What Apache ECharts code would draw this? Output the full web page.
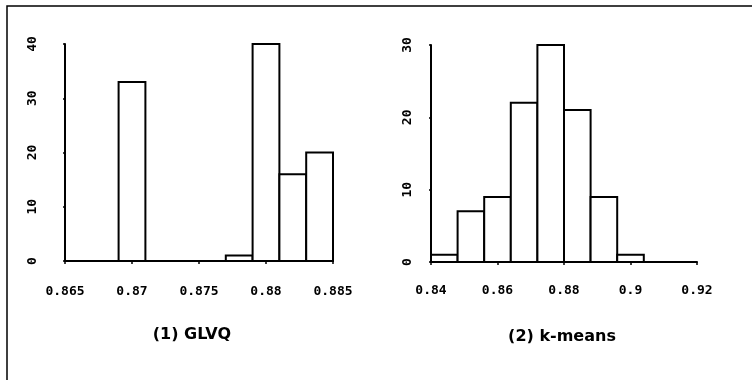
<!DOCTYPE html>
<html>
<head>
<meta charset="utf-8">
<script src="https://cdn.jsdelivr.net/npm/echarts@6/dist/echarts.min.js"></script>
<style>
html,body{margin:0;padding:0;background:#fff;}
#chart{width:752px;height:380px;}
</style>
</head>
<body>
<div id="chart"></div>
<script>
// ---- Data ----
const glvqBinStart = [0.869, 0.877, 0.879, 0.881, 0.883];
const glvqBinWidth = 0.002;
const glvqCounts = [33, 1, 40, 16, 20];
const glvqXTicks = [0.865, 0.87, 0.875, 0.88, 0.885];
const glvqYTicks = [0, 10, 20, 30, 40];

const kmBinStart = [0.840, 0.848, 0.856, 0.864, 0.872, 0.880, 0.888, 0.896];
const kmBinWidth = 0.008;
const kmCounts = [1, 7, 9, 22, 30, 21, 9, 1];
const kmXTicks = [0.84, 0.86, 0.88, 0.9, 0.92];
const kmYTicks = [0, 10, 20, 30];

const titles = ['(1) GLVQ', '(2) k-means'];

// ---- Build ----
function binData(starts, width, counts) {
  return starts.map((s, i) => [s, +(s + width).toFixed(6), counts[i]]);
}
function renderBar(params, api) {
  const p0 = api.coord([api.value(0), api.value(2)]);
  const p1 = api.coord([api.value(1), 0]);
  return {
    type: 'rect',
    shape: { x: p0[0], y: p0[1], width: p1[0] - p0[0], height: p1[1] - p0[1] },
    style: { fill: '#fff', stroke: '#000', lineWidth: 2 }
  };
}
const monoFont = { fontFamily: 'DejaVu Sans Mono', fontWeight: 'bold', fontSize: 13, color: '#000' };
function xAxisCfg(idx, ticks, margin) {
  const step = +(ticks[1] - ticks[0]).toFixed(6);
  return {
    type: 'value', gridIndex: idx,
    min: ticks[0], max: ticks[ticks.length - 1], interval: step,
    axisLine: { show: true, lineStyle: { color: '#000', width: 2 } },
    axisTick: { show: true, length: 3, lineStyle: { color: '#000', width: 1.5 } },
    splitLine: { show: false },
    axisLabel: Object.assign({ margin: margin, showMinLabel: true, showMaxLabel: true,
      formatter: v => String(+(+v).toFixed(3)) }, monoFont)
  };
}
function yAxisCfg(idx, ticks, margin) {
  return {
    type: 'value', gridIndex: idx,
    min: ticks[0], max: ticks[ticks.length - 1], interval: ticks[1] - ticks[0],
    axisLine: { show: true, lineStyle: { color: '#000', width: 2 } },
    axisTick: { show: true, length: 2, lineStyle: { color: '#000', width: 1.5 } },
    splitLine: { show: false },
    axisLabel: Object.assign({ rotate: 90, margin: margin }, monoFont)
  };
}

const chart = echarts.init(document.getElementById('chart'), null, { renderer: 'canvas' });
chart.setOption({
  animation: false,
  backgroundColor: '#fff',
  grid: [
    { left: 65, top: 44, width: 268, height: 217 },
    { left: 431, top: 45, width: 266, height: 217 }
  ],
  xAxis: [xAxisCfg(0, glvqXTicks, 24), xAxisCfg(1, kmXTicks, 22)],
  yAxis: [yAxisCfg(0, glvqYTicks, 26), yAxisCfg(1, kmYTicks, 17)],
  title: [
    { text: titles[0], left: 187, top: 322, textAlign: 'center',
      textStyle: { fontFamily: 'DejaVu Sans', fontWeight: 'bold', fontSize: 16, color: '#000' } },
    { text: titles[1], left: 557, top: 324, textAlign: 'center',
      textStyle: { fontFamily: 'DejaVu Sans', fontWeight: 'bold', fontSize: 16, color: '#000' } }
  ],
  graphic: [
    { type: 'polyline', shape: { points: [[7, 380], [7, 6], [752, 6]] },
      style: { stroke: '#000', lineWidth: 1.5, fill: null }, silent: true }
  ],
  series: [
    { type: 'custom', xAxisIndex: 0, yAxisIndex: 0, renderItem: renderBar,
      encode: { x: [0, 1], y: 2 }, data: binData(glvqBinStart, glvqBinWidth, glvqCounts) },
    { type: 'custom', xAxisIndex: 1, yAxisIndex: 1, renderItem: renderBar,
      encode: { x: [0, 1], y: 2 }, data: binData(kmBinStart, kmBinWidth, kmCounts) }
  ]
});
</script>
</body>
</html>
